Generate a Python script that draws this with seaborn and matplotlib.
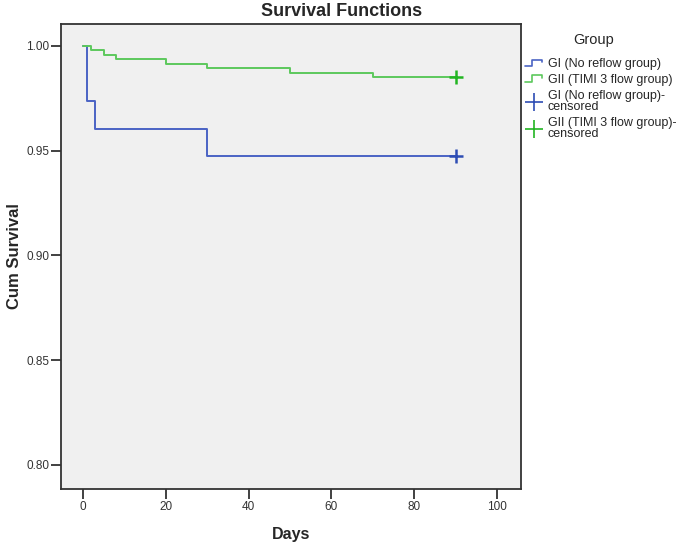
import numpy as np
import pandas as pd
import seaborn as sns
import matplotlib.pyplot as plt
from matplotlib.legend_handler import HandlerBase
from matplotlib.lines import Line2D

# Kaplan-Meier step values
g1_days = [0, 1, 3, 30, 90]
g1_surv = [1.000, 0.9736, 0.9604, 0.9472, 0.9472]
g2_days = [0, 2, 5, 8, 20, 30, 50, 70, 90]
g2_surv = [1.000, 0.9979, 0.9957, 0.9936, 0.9914, 0.9893, 0.9871, 0.9850, 0.9850]

# censored marks (last follow-up)
cens_days = [90, 90]
cens_surv = [0.9472, 0.9850]

groups = ["GI (No reflow group)", "GII (TIMI 3 flow group)"]
x_ticks = [0, 20, 40, 60, 80, 100]
y_ticks = [0.80, 0.85, 0.90, 0.95, 1.00]

line_cols = ["#4a63c4", "#5cc85c"]
cens_cols = ["#2e4db4", "#22b522"]

sns.set_style("white")
plt.rcParams["font.family"] = ["Liberation Sans", "DejaVu Sans"]

df = pd.concat([
    pd.DataFrame({"Days": g1_days, "Surv": g1_surv, "Group": groups[0]}),
    pd.DataFrame({"Days": g2_days, "Surv": g2_surv, "Group": groups[1]}),
])
cens = pd.DataFrame({"Days": cens_days, "Surv": cens_surv, "Group": groups})

fig = plt.figure(figsize=(6.77, 5.43), dpi=100)
ax = fig.add_axes([0.0901, 0.0994, 0.6795, 0.8564])
ax.set_facecolor("#f0f0f0")

for g, c in zip(groups, line_cols):
    sub = df[df["Group"] == g]
    sns.lineplot(data=sub, x="Days", y="Surv", ax=ax, color=c, lw=1.4,
                 drawstyle="steps-post", estimator=None, sort=False, legend=False)
for g, c in zip(groups, cens_cols):
    sub = cens[cens["Group"] == g]
    sns.scatterplot(data=sub, x="Days", y="Surv", ax=ax, color=c, marker="+",
                    s=90, linewidth=1.8, legend=False, zorder=4)

ax.set_xlim(-5.3, 105.8)
ax.set_ylim(0.7885, 1.0104)
ax.set_xticks(x_ticks)
ax.set_yticks(y_ticks)
ax.set_yticklabels([f"{v:.2f}" for v in y_ticks])
ax.tick_params(axis="both", direction="out", length=7, width=1.3, color="#333333",
               labelsize=8.5, labelcolor="#333333", bottom=True, left=True, pad=1.5)
for s in ax.spines.values():
    s.set_color("#333333")
    s.set_linewidth(1.3)

ax.set_xlabel("Days", fontsize=11.5, fontweight="bold", labelpad=10)
ax.set_ylabel("Cum Survival", fontsize=12, fontweight="bold", labelpad=3)
fig.suptitle("Survival Functions", fontsize=13, fontweight="bold", x=0.505, y=0.994)


class StepHandler(HandlerBase):
    def create_artists(self, legend, orig, xd, yd, w, h, fontsize, trans):
        xs = np.array([0, 0.4, 0.4, 0.95, 0.95]) * w - xd
        ys = np.array([0.1, 0.1, 0.85, 0.85, 0.55]) * h - yd
        ln = Line2D(xs, ys, color=orig.get_color(), lw=1.2, transform=trans)
        return [ln]


fig.text(0.877, 0.926, "Group", ha="center", va="center", fontsize=10.5)

handles = [Line2D([], [], color=line_cols[0]), Line2D([], [], color=line_cols[1]),
           Line2D([], [], color=cens_cols[0], marker="+", ls="", ms=13, mew=1.2),
           Line2D([], [], color=cens_cols[1], marker="+", ls="", ms=13, mew=1.2)]
labels = groups + [groups[0] + "-\ncensored", groups[1] + "-\ncensored"]
leg = fig.legend(handles, labels, loc="upper left",
                 bbox_to_anchor=(0.7755, 0.893), frameon=False, fontsize=9,
                 handlelength=1.4, handletextpad=0.4, borderpad=0,
                 labelspacing=0.3, borderaxespad=0,
                 handler_map={handles[0]: StepHandler(), handles[1]: StepHandler()})
for t in leg.get_texts():
    t.set_linespacing(0.95)

fig.savefig("out.png", dpi=100)
